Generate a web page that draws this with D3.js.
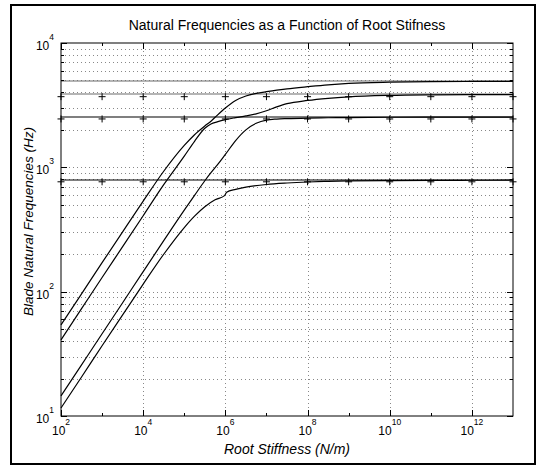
<!DOCTYPE html>
<html>
<head>
<meta charset="utf-8">
<script src="https://cdn.jsdelivr.net/npm/d3@7"></script>
<style>
  body { margin: 0; background: #fff; }
  text { font-family: 'Liberation Sans', Arial, sans-serif; fill: #000; }
</style>
</head>
<body>
<div id="chart"></div>
<script>
// log10 of root stiffness (N/m) where the curves were read
let stiffExp = [2, 2.5, 3, 3.5, 4, 4.5, 5, 5.25, 5.5, 5.65, 5.8, 6, 6.25, 6.5, 6.75, 7, 7.25, 7.5, 8, 8.5, 9, 10, 11, 12, 13];
// natural frequencies (Hz), one array per mode
let mode4Freq = [54, 96, 171, 303, 535, 930, 1500, 1830, 2150, 2350, 2620, 3000, 3450, 3750, 3930, 4060, 4180, 4280, 4450, 4610, 4730, 4840, 4890, 4905, 4910];
let mode3Freq = [41, 73, 130, 230, 408, 725, 1230, 1620, 2060, 2230, 2320, 2420, 2510, 2590, 2690, 2850, 3060, 3250, 3450, 3590, 3690, 3790, 3830, 3845, 3850];
let mode2Freq = [14.5, 25.8, 45.9, 81.5, 145, 257, 452, 595, 780, 905, 1040, 1270, 1640, 2000, 2260, 2400, 2445, 2465, 2490, 2505, 2515, 2528, 2533, 2535, 2536];
// first mode has a small step at 10^6, so it keeps its own stiffness list
let mode1Exp = [2, 2.5, 3, 3.5, 4, 4.5, 5, 5.25, 5.5, 5.75, 5.98, 6.03, 6.25, 6.5, 7, 7.5, 8, 8.5, 9, 10, 11, 12, 13];
let mode1Freq = [11.6, 20.6, 36.7, 65, 115, 200, 328, 405, 482, 548, 592, 630, 665, 693, 728, 748, 762, 771, 777, 783, 786, 787, 788];
// clamped-root frequencies (horizontal lines)
let clampedFreq = [4948, 3889, 2540, 790];
let clampedColor = ['#6a6a6a', '#6a6a6a', '#000', '#000'];
// '+' markers
let markerExp = [2, 3, 4, 5, 6, 7, 8, 9, 10, 11, 12, 13];
let markerFreq = [3700, 2450, 765];
// ticks
let xTickExp = [2, 4, 6, 8, 10, 12];
let xMinorExp = [3, 5, 7, 9, 11];
let yTickExp = [1, 2, 3, 4];

(function () {
  let width = 546,
    height = 468

  let margin = { top: 43, right: 33, bottom: 52, left: 61 }

  let svg = d3.select('#chart')
    .append('svg')
    .attr('width', width)
    .attr('height', height)

  // outer frame
  svg.append('rect')
    .attr('x', 11).attr('y', 5)
    .attr('width', 524).attr('height', 459)
    .attr('fill', 'none')
    .attr('stroke', '#000')
    .attr('stroke-width', 2)

  let x = d3.scaleLog().domain([1e2, 1e13]).range([margin.left, width - margin.right])
  let y = d3.scaleLog().domain([10, 1e4]).range([height - margin.bottom, margin.top])

  let x0 = x.range()[0], x1 = x.range()[1]
  let y0 = y.range()[0], y1 = y.range()[1]
  let crisp = v => Math.round(v) + 0.5

  // minor/major y values between 10 and 10^4
  let yAll = []
  yTickExp.slice(0, 3).forEach(e => {
    for (let m = 1; m <= 9; m++) yAll.push(m * Math.pow(10, e))
  })
  yAll.push(1e4)

  let grid = svg.append('g')
    .attr('stroke', '#888')
    .attr('stroke-dasharray', '1,3')
    .attr('stroke-width', 1)

  grid.selectAll('.hgrid')
    .data(yAll.filter(v => v > 10 && v < 1e4))
    .enter()
    .append('line')
    .attr('x1', x0).attr('x2', x1)
    .attr('y1', d => crisp(y(d))).attr('y2', d => crisp(y(d)))

  grid.selectAll('.vgrid')
    .data(xTickExp.filter(e => e > 2))
    .enter()
    .append('line')
    .attr('y1', y1).attr('y2', y0)
    .attr('x1', d => crisp(x(Math.pow(10, d)))).attr('x2', d => crisp(x(Math.pow(10, d))))

  // clamped lines
  svg.selectAll('.clamped')
    .data(clampedFreq)
    .enter()
    .append('line')
    .attr('x1', x0).attr('x2', x1)
    .attr('y1', d => y(d)).attr('y2', d => y(d))
    .attr('stroke', (d, i) => clampedColor[i])
    .attr('stroke-width', 1.1)

  // curves
  let line = d3.line()
    .x(d => x(Math.pow(10, d[0])))
    .y(d => y(d[1]))
    .curve(d3.curveMonotoneX)

  let series = [
    d3.zip(stiffExp, mode4Freq),
    d3.zip(stiffExp, mode3Freq),
    d3.zip(stiffExp, mode2Freq),
    d3.zip(mode1Exp, mode1Freq)
  ]

  svg.selectAll('.mode')
    .data(series)
    .enter()
    .append('path')
    .attr('class', 'mode')
    .attr('d', line)
    .attr('fill', 'none')
    .attr('stroke', '#000')
    .attr('stroke-width', 1.2)

  // plus markers
  let markers = []
  markerFreq.forEach(f => markerExp.forEach(e => markers.push([e, f])))

  svg.selectAll('.plus')
    .data(markers)
    .enter()
    .append('path')
    .attr('transform', d => `translate(${x(Math.pow(10, d[0]))},${y(d[1])})`)
    .attr('d', 'M-3.5,0H3.5M0,-3.5V3.5')
    .attr('stroke', '#000')
    .attr('stroke-width', 1)

  // axes box and inward ticks
  svg.append('rect')
    .attr('x', x0).attr('y', y1)
    .attr('width', x1 - x0).attr('height', y0 - y1)
    .attr('fill', 'none')
    .attr('stroke', '#000')
    .attr('stroke-width', 1)

  let ticks = svg.append('g').attr('stroke', '#000').attr('stroke-width', 1)

  yAll.forEach(v => {
    let len = yTickExp.includes(Math.log10(v)) ? 6 : 3
    let yy = crisp(y(v))
    ticks.append('line').attr('x1', x0).attr('x2', x0 + len).attr('y1', yy).attr('y2', yy)
    ticks.append('line').attr('x1', x1).attr('x2', x1 - len).attr('y1', yy).attr('y2', yy)
  })
  xTickExp.concat(xMinorExp).forEach(e => {
    let len = xTickExp.includes(e) ? 6 : 3
    let xx = crisp(x(Math.pow(10, e)))
    ticks.append('line').attr('x1', xx).attr('x2', xx).attr('y1', y0).attr('y2', y0 - len)
    ticks.append('line').attr('x1', xx).attr('x2', xx).attr('y1', y1).attr('y2', y1 + len)
  })

  // tick labels
  let xl = svg.selectAll('.xlabel')
    .data(xTickExp)
    .enter()
    .append('text')
    .attr('x', d => x(Math.pow(10, d)))
    .attr('y', y0 + 19)
    .attr('text-anchor', 'middle')
    .style('font-size', '12px')
  xl.append('tspan').text('10')
  xl.append('tspan').attr('dy', -10).style('font-size', '8.5px').text(d => d)

  let yl = svg.selectAll('.ylabel')
    .data(yTickExp)
    .enter()
    .append('text')
    .attr('x', x0 - 7)
    .attr('y', d => y(Math.pow(10, d)) + 7)
    .attr('text-anchor', 'end')
    .style('font-size', '12px')
  yl.append('tspan').text('10')
  yl.append('tspan').attr('dy', -10).style('font-size', '8.5px').text(d => d)

  // titles
  svg.append('text')
    .attr('x', (x0 + x1) / 2)
    .attr('y', 30)
    .attr('text-anchor', 'middle')
    .style('font-size', '14px')
    .text('Natural Frequencies as a Function of Root Stifness')

  svg.append('text')
    .attr('x', (x0 + x1) / 2)
    .attr('y', 454)
    .attr('text-anchor', 'middle')
    .style('font-size', '14px')
    .style('font-style', 'italic')
    .text('Root Stiffness (N/m)')

  svg.append('text')
    .attr('transform', `translate(33,${(y0 + y1) / 2 - 8}) rotate(-90)`)
    .attr('text-anchor', 'middle')
    .style('font-size', '13.5px')
    .style('font-style', 'italic')
    .text('Blade Natural Frequencies (Hz)')
})()
</script>
</body>
</html>
